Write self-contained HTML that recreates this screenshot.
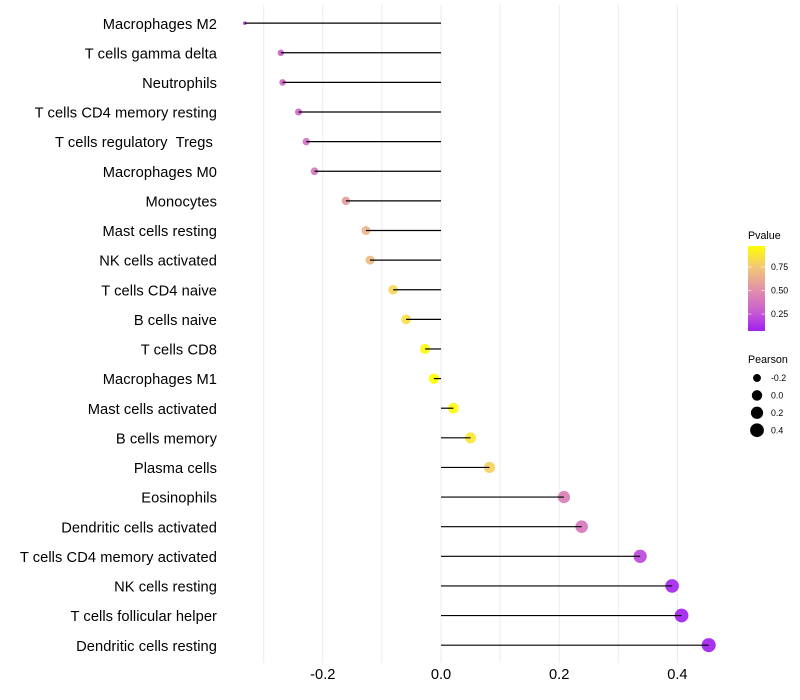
<!DOCTYPE html>
<html>
<head>
<meta charset="utf-8">
<style>
html,body{margin:0;padding:0;background:#fff;}
svg{display:block;}
text{font-family:"Liberation Sans",sans-serif;fill:#000;}
</style>
</head>
<body>
<svg id="chart" width="800" height="700" viewBox="0 0 800 700" xmlns="http://www.w3.org/2000/svg">
  <defs>
    <linearGradient id="pvalue-gradient" x1="0" y1="1" x2="0" y2="0">
      <stop offset="0" stop-color="#A020F0"/>
      <stop offset="0.25" stop-color="#CB62CE"/>
      <stop offset="0.5" stop-color="#E294A6"/>
      <stop offset="0.75" stop-color="#F2C777"/>
      <stop offset="1" stop-color="#FFFF00"/>
    </linearGradient>
  </defs>
  <g id="grid"></g>
  <g id="marks"></g>
  <g id="y-axis"></g>
  <g id="x-axis"></g>
  <g id="legend-color">
    <text x="748" y="239" font-size="10.7">Pvalue</text>
    <rect x="748" y="246" width="17" height="85" fill="url(#pvalue-gradient)"/>
  </g>
  <g id="legend-size">
    <text x="748" y="363" font-size="10.7">Pearson</text>
  </g>
</svg>
<script>
const categories = ["Macrophages M2","T cells gamma delta","Neutrophils","T cells CD4 memory resting","T cells regulatory  Tregs ","Macrophages M0","Monocytes","Mast cells resting","NK cells activated","T cells CD4 naive","B cells naive","T cells CD8","Macrophages M1","Mast cells activated","B cells memory","Plasma cells","Eosinophils","Dendritic cells activated","T cells CD4 memory activated","NK cells resting","T cells follicular helper","Dendritic cells resting"];
const pearsonValues = [-0.332,-0.271,-0.268,-0.241,-0.228,-0.214,-0.161,-0.127,-0.120,-0.081,-0.059,-0.027,-0.012,0.021,0.050,0.082,0.208,0.238,0.337,0.391,0.407,0.453];
const pValues = [0.15,0.31,0.32,0.34,0.37,0.40,0.56,0.67,0.69,0.81,0.84,0.94,0.97,0.94,0.87,0.79,0.43,0.39,0.21,0.09,0.08,0.08];
const xTickValues = [-0.2,0,0.2,0.4];
const xTickLabels = ["-0.2","0.0","0.2","0.4"];
const xGridValues = [-0.3,-0.2,-0.1,0,0.1,0.2,0.3,0.4];
const colorLegendValues = [0.25,0.5,0.75];
const colorLegendLabels = ["0.25","0.50","0.75"];
const sizeLegendValues = [-0.2,0,0.2,0.4];
const sizeLegendLabels = ["-0.2","0.0","0.2","0.4"];
const pearsonDomain = [-0.332,0.453];
const pDomain = [0.07,0.97];

const NS = "http://www.w3.org/2000/svg";
const xScale = v => 441 + v * 591;
const yScale = i => 23.15 + i * 29.62;
const colorbarY = p => 290.5 - (p - 0.5) * 94;
function radiusScale(v) {
  const t = Math.max(0, Math.min(1, (v - pearsonDomain[0]) / (pearsonDomain[1] - pearsonDomain[0])));
  return (3.6 + 10.5 * Math.sqrt(t)) / 2;
}
const colorStops = [[160,32,240],[203,98,206],[226,148,166],[242,199,119],[255,255,0]];
function colorScale(p) {
  let t = (p - pDomain[0]) / (pDomain[1] - pDomain[0]);
  t = Math.max(0, Math.min(1, t)) * 4;
  const k = Math.min(3, Math.floor(t));
  const f = t - k;
  const c = colorStops[k].map((a, j) => Math.round(a + (colorStops[k + 1][j] - a) * f));
  return "rgb(" + c.join(",") + ")";
}
function make(tag, attrs, parent) {
  const el = document.createElementNS(NS, tag);
  for (const key in attrs) el.setAttribute(key, attrs[key]);
  parent.appendChild(el);
  return el;
}

const grid = document.getElementById("grid");
xGridValues.forEach(v => {
  const px = xScale(v);
  const line = make("line", {x1: px, x2: px, y1: 5, y2: 663, stroke: "#ebebeb", "stroke-width": 1}, grid);
  
  
});

const marks = document.getElementById("marks");
categories.forEach((name, i) => {
  const dot = make("circle", {cx: xScale(pearsonValues[i]), cy: yScale(i), r: radiusScale(pearsonValues[i]), fill: colorScale(pValues[i]), "fill-opacity": 0.92}, marks);
  
  
});
categories.forEach((name, i) => {
  const stem = make("line", {x1: xScale(0), x2: xScale(pearsonValues[i]), y1: yScale(i), y2: yScale(i), stroke: "#000", "stroke-width": 1.2}, marks);
  
  
});

const yAxis = document.getElementById("y-axis");
categories.forEach((name, i) => {
  const label = make("text", {x: 217, y: yScale(i) + 5.6, "text-anchor": "end", "font-size": 14.67, "letter-spacing": 0.07}, yAxis);
  label.setAttribute("xml:space", "preserve");
  label.style.whiteSpace = "pre";
  label.textContent = name;
  
  
});

const xAxis = document.getElementById("x-axis");
xTickValues.forEach((v, i) => {
  const label = make("text", {x: xScale(v), y: 679, "text-anchor": "middle", "font-size": 14.67}, xAxis);
  label.textContent = xTickLabels[i];
  
  
});

const legendColor = document.getElementById("legend-color");
colorLegendValues.forEach((p, i) => {
  const y = colorbarY(p);
  [[748, 751.4], [761.6, 765]].forEach(seg => {
    const tick = make("line", {x1: seg[0], x2: seg[1], y1: y, y2: y, stroke: "#fff", "stroke-width": 0.6}, legendColor);
    
    
  });
  const label = make("text", {x: 771, y: y + 3.1, "font-size": 8.8}, legendColor);
  label.textContent = colorLegendLabels[i];
  
  
});

const legendSize = document.getElementById("legend-size");
sizeLegendValues.forEach((v, i) => {
  const y = 378 + i * 17.4;
  const dot = make("circle", {cx: 757, cy: y, r: radiusScale(v), fill: "#000"}, legendSize);
  
  
  const label = make("text", {x: 771, y: y + 3.1, "font-size": 8.8}, legendSize);
  label.textContent = sizeLegendLabels[i];
  
  
});
</script>
</body>
</html>
